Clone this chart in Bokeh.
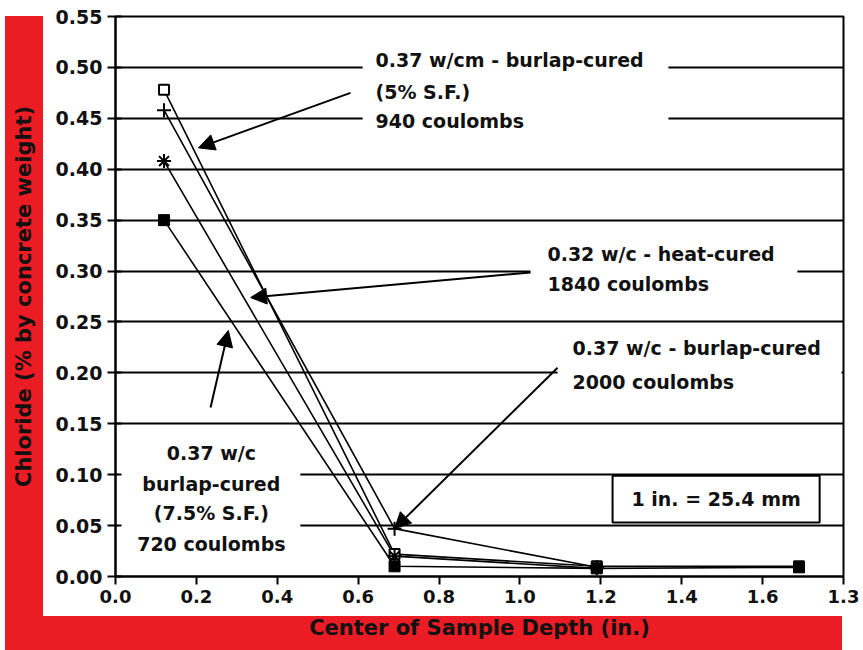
from bokeh.plotting import figure
from bokeh.models import Range1d, FixedTicker, BoxAnnotation, Label, Arrow, NormalHead
from bokeh.layouts import column
from bokeh.embed import file_html
from bokeh.resources import INLINE

# ---- data ----
depth_940 = [0.12, 0.69, 1.19, 1.69]
chloride_940 = [0.478, 0.022, 0.010, 0.010]      # 0.37 w/cm burlap-cured 5% S.F. (open square)

depth_2000 = [0.12, 0.69, 1.19]
chloride_2000 = [0.458, 0.047, 0.009]            # 0.37 w/c burlap-cured (plus)

depth_1840 = [0.12, 0.69, 1.19]
chloride_1840 = [0.408, 0.020, 0.008]            # 0.32 w/c heat-cured (asterisk)

depth_720 = [0.12, 0.69, 1.19, 1.69]
chloride_720 = [0.350, 0.010, 0.008, 0.009]      # 0.37 w/c burlap-cured 7.5% S.F. (filled square)

x_ticks = [0, 0.2, 0.4, 0.6, 0.8, 1.0, 1.2, 1.4, 1.6, 1.8]
x_tick_labels = ["0.0", "0.2", "0.4", "0.6", "0.8", "1.0", "1.2", "1.4", "1.6", "1.3"]
y_ticks = [0, 0.05, 0.1, 0.15, 0.2, 0.25, 0.3, 0.35, 0.4, 0.45, 0.5, 0.55]
y_tick_labels = ["0.00", "0.05", "0.10", "0.15", "0.20", "0.25", "0.30", "0.35",
                 "0.40", "0.45", "0.50", "0.55"]

FONT = "DejaVu Sans"
RED = "#ec1c24"

p = figure(width=863, height=650, x_range=Range1d(0, 1.8), y_range=Range1d(0, 0.55),
           output_backend="svg", toolbar_location=None,
           min_border_left=115, min_border_right=20, min_border_top=16, min_border_bottom=74,
           border_fill_alpha=0, background_fill_color="white",
           outline_line_color="black", outline_line_width=2)

# axes
p.xaxis.ticker = FixedTicker(ticks=x_ticks)
p.xaxis.major_label_overrides = dict(zip(x_ticks, x_tick_labels))
p.yaxis.ticker = FixedTicker(ticks=y_ticks)
p.yaxis.major_label_overrides = dict(zip(y_ticks, y_tick_labels))
for ax in (p.xaxis[0], p.yaxis[0]):
    ax.axis_line_color = "black"
    ax.axis_line_width = 2
    ax.major_tick_line_color = "black"
    ax.major_tick_line_width = 2
    ax.minor_tick_line_color = None
    ax.major_label_text_font = FONT
    ax.major_label_text_font_style = "bold"
    ax.major_label_text_color = "#111111"
    ax.axis_label_text_font = FONT
    ax.axis_label_text_font_style = "bold"
    ax.axis_label_text_font_size = "21px"
    ax.axis_label_text_color = "#111111"
p.xaxis.major_tick_in = 0
p.xaxis.major_tick_out = 8
p.xaxis.major_label_text_font_size = "18px"
p.xaxis.major_label_standoff = 5
p.xaxis.axis_label = "Center of Sample Depth (in.)"
p.xaxis.axis_label_standoff = 10
p.yaxis.major_tick_in = 6
p.yaxis.major_tick_out = 8
p.yaxis.major_label_text_font_size = "19px"
p.yaxis.major_label_standoff = 5
p.yaxis.axis_label = "Chloride (% by concrete weight)"
p.yaxis.axis_label_standoff = 17

p.xgrid.visible = False
p.ygrid.ticker = FixedTicker(ticks=y_ticks)
p.ygrid.grid_line_color = "black"
p.ygrid.grid_line_width = 2

# white masks behind text blocks (hide gridlines)
for l, r, b, t in [(0.611, 1.367, 0.42, 0.53),
                   (1.026, 1.686, 0.27, 0.34),
                   (1.093, 1.795, 0.16, 0.24),
                   (0.004, 0.457, 0.005, 0.14)]:
    p.add_layout(BoxAnnotation(left=l, right=r, bottom=b, top=t, fill_color="white",
                               fill_alpha=1, line_alpha=0, level="underlay"))
# scale box
p.add_layout(BoxAnnotation(left=1.229, right=1.741, bottom=0.053, top=0.099, fill_color="white",
                           fill_alpha=1, line_color="black", line_alpha=1, line_width=2,
                           level="underlay"))

# series
lw = 1.6
p.line(depth_940, chloride_940, line_color="black", line_width=lw)
p.line(depth_2000, chloride_2000, line_color="black", line_width=lw)
p.line(depth_1840, chloride_1840, line_color="black", line_width=lw)
p.line(depth_720, chloride_720, line_color="black", line_width=lw)
p.scatter(depth_940, chloride_940, marker="square", size=10, fill_color="white",
          line_color="black", line_width=2)
p.scatter(depth_2000, chloride_2000, marker="cross", size=14, line_color="black", line_width=2)
p.scatter(depth_1840, chloride_1840, marker="asterisk", size=14, line_color="black", line_width=2)
p.scatter(depth_720, chloride_720, marker="square", size=11, fill_color="black",
          line_color="black")

# text annotations
def txt(x, y, s, align="left"):
    p.add_layout(Label(x=x, y=y, text=s, text_font=FONT, text_font_style="bold",
                       text_font_size="19px", text_color="#111111",
                       text_align=align, text_baseline="middle"))

txt(0.643, 0.507, "0.37 w/cm - burlap-cured")
txt(0.643, 0.476, "(5% S.F.)")
txt(0.643, 0.447, "940 coulombs")
txt(1.068, 0.317, "0.32 w/c - heat-cured")
txt(1.068, 0.287, "1840 coulombs")
txt(1.130, 0.224, "0.37 w/c - burlap-cured")
txt(1.130, 0.191, "2000 coulombs")
txt(0.237, 0.121, "0.37 w/c", "center")
txt(0.237, 0.0913, "burlap-cured", "center")
txt(0.237, 0.062, "(7.5% S.F.)", "center")
txt(0.237, 0.0324, "720 coulombs", "center")
txt(1.485, 0.076, "1 in. = 25.4 mm", "center")

# arrows
for xs, ys, xe, ye in [(0.581, 0.475, 0.205, 0.421),
                       (1.026, 0.2986, 0.334, 0.274),
                       (1.093, 0.205, 0.690, 0.047),
                       (0.235, 0.166, 0.279, 0.2416)]:
    p.add_layout(Arrow(x_start=xs, y_start=ys, x_end=xe, y_end=ye, line_color="black",
                       line_width=2,
                       end=NormalHead(size=16, fill_color="black", line_color="black")))

bg = ("linear-gradient(%s,%s) 5px 16px / 38px 634px no-repeat, "
      "linear-gradient(%s,%s) 5px 616px / 837px 34px no-repeat, #ffffff") % (RED, RED, RED, RED)
layout = column(p, width=863, height=650, styles={"background": bg})

open("out.html", "w").write(file_html(layout, INLINE))
